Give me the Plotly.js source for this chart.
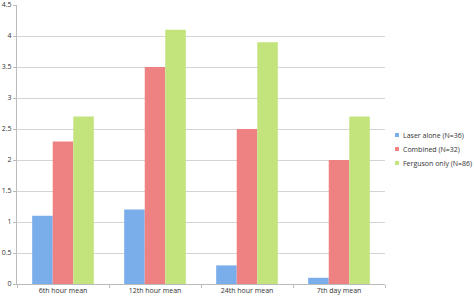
<!DOCTYPE html>
<html>
<head>
<meta charset="utf-8">
<script src="https://cdn.plot.ly/plotly-3.0.1.min.js"></script>
<style>html,body{margin:0;padding:0;background:#fff;}#chart{width:474px;height:303px;}</style>
</head>
<body>
<div id="chart"></div>
<script>
const categories = ["6th hour mean", "12th hour mean", "24th hour mean", "7th day mean"];
const laserAlone = [1.1, 1.2, 0.3, 0.1];
const combined = [2.3, 3.5, 2.5, 2.0];
const fergusonOnly = [2.7, 4.1, 3.9, 2.7];
const seriesNames = ["Laser alone (N=36)", "Combined (N=32)", "Ferguson only (N=86)"];
const yTicks = [0, 0.5, 1, 1.5, 2, 2.5, 3, 3.5, 4, 4.5];
const yTickText = ["0", "0.5", "1", "1.5", "2", "2.5", "3", "3.5", "4", "4.5"];

const colors = ["#79aeea", "#ee8282", "#c3e47c"];
const data = [laserAlone, combined, fergusonOnly].map((vals, i) => ({
  type: "bar",
  x: categories,
  y: vals,
  name: seriesNames[i],
  marker: {color: colors[i], line: {width: 0}}
}));

const W = 474, H = 303;
const M = {l: 17, r: 89, t: 5, b: 19};
const pw = W - M.l - M.r, ph = H - M.t - M.b;
const px2x = p => (p - M.l) / pw;
const py2y = p => (H - M.b - p) / ph;

// legend drawn as paper-positioned shapes + texts
const legendTop = 135, legendStep = 14, symX = 397, sym = 4, textX = 401;
const shapes = [], annotations = [];
seriesNames.forEach((name, i) => {
  const cy = legendTop + i * legendStep;
  shapes.push({type: "rect", xref: "paper", yref: "paper",
    x0: px2x(symX - sym / 2), x1: px2x(symX + sym / 2),
    y0: py2y(cy + sym / 2), y1: py2y(cy - sym / 2),
    fillcolor: colors[i], line: {width: 0}});
  annotations.push({xref: "paper", yref: "paper", x: px2x(textX), y: py2y(cy),
    xanchor: "left", yanchor: "middle", showarrow: false, text: name,
    font: {size: 7, color: "#333"}});
});

const layout = {
  width: W, height: H,
  margin: Object.assign({autoexpand: false}, M),
  paper_bgcolor: "#fff", plot_bgcolor: "#fff",
  barmode: "group", bargap: 0.33, bargroupgap: 0,
  font: {family: "Open Sans, Liberation Sans, sans-serif", size: 7, color: "#333"},
  xaxis: {
    showgrid: false, showline: true, linecolor: "#bbb", linewidth: 1,
    ticks: "outside", ticklen: 3, tickcolor: "#bbb", tickson: "boundaries",
    tickfont: {size: 7, color: "#333"}, fixedrange: true, automargin: false
  },
  yaxis: {
    range: [0, 4.5], tickvals: yTicks, ticktext: yTickText,
    showgrid: true, gridcolor: "#d4d4d4", gridwidth: 1,
    showline: true, linecolor: "#bbb", linewidth: 1,
    ticks: "outside", ticklen: 3, tickcolor: "#bbb",
    tickfont: {size: 7, color: "#333"}, zeroline: false, fixedrange: true, automargin: false
  },
  showlegend: false,
  shapes: shapes,
  annotations: annotations
};
Plotly.newPlot("chart", data, layout, {displayModeBar: false, staticPlot: true});
</script>
</body>
</html>
